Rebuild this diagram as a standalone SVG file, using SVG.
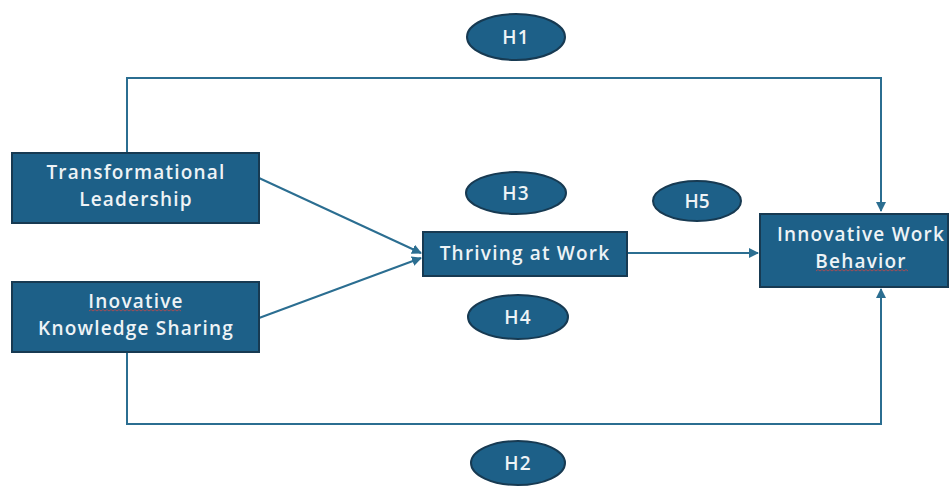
<svg xmlns="http://www.w3.org/2000/svg" width="952" height="488" viewBox="0 0 952 488">
<defs>
<style>
.box{fill:#1d6088;stroke:#173a52;stroke-width:2}
.ell{fill:#1d6088;stroke:#173a52;stroke-width:2}
.t{fill:#eef3f6;font-family:"Open Sans","Liberation Sans",sans-serif;font-size:19px;font-weight:600;letter-spacing:1.2px;text-anchor:middle}
.c{fill:none;stroke:#2b6e91;stroke-width:2}
.sq{fill:none;stroke:#c44a4a;stroke-width:1;opacity:0.8}
</style>
<marker id="ah" viewBox="0 0 10 10" refX="9" refY="5" markerWidth="5" markerHeight="5" orient="auto">
<path d="M0,0 L10,5 L0,10 Z" fill="#2b6e91"/>
</marker>
</defs>
<rect width="952" height="488" fill="#ffffff"/>
<g id="connectors">
<path class="c" d="M127,153 V78 H881 V211" marker-end="url(#ah)"/>
<path class="c" d="M127,352 V424 H881 V289" marker-end="url(#ah)"/>
<path class="c" d="M259,178 L421,253" marker-end="url(#ah)"/>
<path class="c" d="M259,318 L421,258" marker-end="url(#ah)"/>
<path class="c" d="M627,253 H758" marker-end="url(#ah)"/>
</g>
<g id="tl">
<rect class="box" x="12" y="153" width="247" height="70"/>
<text class="t" x="136" y="179">Transformational</text>
<text class="t" x="136" y="206">Leadership</text>
</g>
<g id="iks">
<rect class="box" x="12" y="282" width="247" height="70"/>
<text class="t" x="136" y="308">Inovative</text>
<text class="t" x="136" y="335">Knowledge Sharing</text>
<path class="sq" d="M89,311 l2,-1.5 l2,1.5 l2,-1.5 l2,1.5 l2,-1.5 l2,1.5 l2,-1.5 l2,1.5 l2,-1.5 l2,1.5 l2,-1.5 l2,1.5 l2,-1.5 l2,1.5 l2,-1.5 l2,1.5 l2,-1.5 l2,1.5 l2,-1.5 l2,1.5 l2,-1.5 l2,1.5 l2,-1.5 l2,1.5 l2,-1.5 l2,1.5 l2,-1.5 l2,1.5 l2,-1.5 l2,1.5 l2,-1.5 l2,1.5 l2,-1.5 l2,1.5 l2,-1.5 l2,1.5 l2,-1.5 l2,1.5 l2,-1.5 l2,1.5 l2,-1.5 l2,1.5 l2,-1.5 l2,1.5 l2,-1.5 l2,1.5"/>
</g>
<g id="taw">
<rect class="box" x="423" y="232" width="204" height="44"/>
<text class="t" x="525" y="260">Thriving at Work</text>
</g>
<g id="iwb">
<rect class="box" x="760" y="214" width="188" height="73"/>
<text class="t" x="861" y="241">Innovative Work</text>
<text class="t" x="861" y="268">Behavior</text>
<path class="sq" d="M816,271 l2,-1.5 l2,1.5 l2,-1.5 l2,1.5 l2,-1.5 l2,1.5 l2,-1.5 l2,1.5 l2,-1.5 l2,1.5 l2,-1.5 l2,1.5 l2,-1.5 l2,1.5 l2,-1.5 l2,1.5 l2,-1.5 l2,1.5 l2,-1.5 l2,1.5 l2,-1.5 l2,1.5 l2,-1.5 l2,1.5 l2,-1.5 l2,1.5 l2,-1.5 l2,1.5 l2,-1.5 l2,1.5 l2,-1.5 l2,1.5 l2,-1.5 l2,1.5 l2,-1.5 l2,1.5 l2,-1.5 l2,1.5 l2,-1.5 l2,1.5 l2,-1.5 l2,1.5 l2,-1.5 l2,1.5 l2,-1.5 l2,1.5"/>
</g>
<g id="h1">
<ellipse class="ell" cx="516" cy="37" rx="49" ry="23"/>
<text class="t" x="516" y="44">H1</text>
</g>
<g id="h3">
<ellipse class="ell" cx="516" cy="193" rx="50" ry="21"/>
<text class="t" x="516" y="200">H3</text>
</g>
<g id="h5">
<ellipse class="ell" cx="697" cy="201" rx="44" ry="20"/>
<text class="t" x="697" y="208" style="letter-spacing:0">H5</text>
</g>
<g id="h4">
<ellipse class="ell" cx="518" cy="317" rx="50" ry="22"/>
<text class="t" x="518" y="324">H4</text>
</g>
<g id="h2">
<ellipse class="ell" cx="518" cy="463" rx="47" ry="22"/>
<text class="t" x="518" y="470">H2</text>
</g>
</svg>
